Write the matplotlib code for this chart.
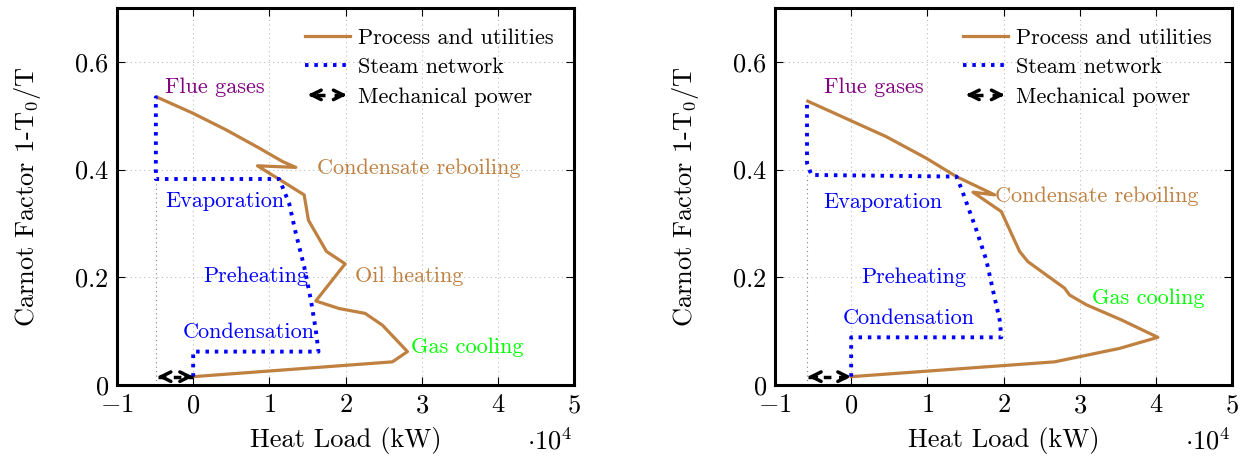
import matplotlib
matplotlib.use("Agg")
import matplotlib.pyplot as plt
from matplotlib.lines import Line2D
from matplotlib.patches import FancyArrowPatch
from matplotlib.legend_handler import HandlerBase
from matplotlib.ticker import FuncFormatter, MultipleLocator

plt.rcParams['font.family'] = 'serif'
plt.rcParams['font.serif'] = ['cmr10']
plt.rcParams['mathtext.fontset'] = 'cm'
plt.rcParams['axes.formatter.use_mathtext'] = True

BROWN = '#BF8040'
BLUE = '#0000FF'
PURPLE = '#800080'
GREEN = '#00FF00'

# heat load in kW, carnot factor
proc1_x = [-4680, -90, 4290, 8660, 11720, 13480, 8440, 14570, 15130, 17500, 19950,
           16100, 19160, 22570, 24850, 28130, 26160, 0]
proc1_y = [0.534, 0.505, 0.474, 0.440, 0.415, 0.404, 0.407, 0.353, 0.306, 0.248, 0.225,
           0.156, 0.142, 0.133, 0.111, 0.062, 0.043, 0.0155]
steam1_x = [0, 0, 16450, 16100, 15450, 14570, 13470, 12600, 11720, 11290, -4900, -4900, -4680]
steam1_y = [0.0155, 0.062, 0.062, 0.102, 0.158, 0.220, 0.282, 0.337, 0.368, 0.3825, 0.3825,
            0.534, 0.534]
mech1_x = [-4680, 0]
mech1_y = [0.0155, 0.0155]

proc2_x = [-5700, 240, 4620, 9870, 13810, 18830, 15990, 19710, 22110, 23200, 28000, 28680,
           30870, 35460, 40260, 35240, 26700, 0]
proc2_y = [0.527, 0.489, 0.461, 0.421, 0.387, 0.353, 0.358, 0.322, 0.248, 0.229, 0.180, 0.167,
           0.149, 0.121, 0.0885, 0.068, 0.043, 0.0155]
steam2_x = [0, 0, 19710, 19490, 18610, 17740, 16430, 15330, 14460, 13810, -5220, -5800, -5800]
steam2_y = [0.0155, 0.0885, 0.0885, 0.121, 0.176, 0.232, 0.288, 0.331, 0.365, 0.387, 0.39,
            0.412, 0.527]
mech2_x = [-5700, 0]
mech2_y = [0.0155, 0.0155]

labels1 = [("Flue gases", -3670, 0.553, PURPLE),
           ("Condensate reboiling", 16270, 0.403, BROWN),
           ("Evaporation", -3670, 0.342, BLUE),
           ("Preheating", 1310, 0.202, BLUE),
           ("Oil heating", 21260, 0.202, BROWN),
           ("Condensation", -1310, 0.098, BLUE),
           ("Gas cooling", 28610, 0.0706, GREEN)]
labels2 = [("Flue gases", -3610, 0.552, PURPLE),
           ("Condensate reboiling", 18830, 0.351, BROWN),
           ("Evaporation", -3610, 0.340, BLUE),
           ("Preheating", 1380, 0.200, BLUE),
           ("Condensation", -1120, 0.124, BLUE),
           ("Gas cooling", 31630, 0.162, GREEN)]


class ArrowHandler(HandlerBase):
    def create_artists(self, legend, orig_handle, xdescent, ydescent, width, height,
                       fontsize, trans):
        y = height / 2 - ydescent
        x0, x1 = -xdescent, width - xdescent
        ln = Line2D([x0 + 8, x1 - 8], [y, y], color='k', lw=2.5, ls=(0, (2.6, 2.6)),
                    transform=trans)
        a1 = FancyArrowPatch((x0 + 9, y), (x0, y), arrowstyle='->', mutation_scale=17,
                             lw=2.5, color='k', transform=trans)
        a2 = FancyArrowPatch((x1 - 9, y), (x1, y), arrowstyle='->', mutation_scale=17,
                             lw=2.5, color='k', transform=trans)
        return [ln, a1, a2]


def draw(ax, px, py, sx, sy, mx, my, labels):
    ax.plot([sx[-2], sx[-2]], [0, sy[-3]], color='gray', lw=0.8, ls=(0, (1, 3)))
    ax.plot(px, py, color=BROWN, lw=2.3, zorder=3)
    ax.plot(sx, sy, color=BLUE, lw=2.8, ls=(0, (0.9, 1.5)), zorder=3)
    ax.plot(mx, my, color='k', lw=2.5, ls=(0, (2.2, 2.2)), zorder=4)
    for i, j in ((0, 1), (1, 0)):
        ax.annotate('', xy=(mx[i], my[i]), xytext=(mx[i] + (mx[j] - mx[i]) * 0.2, my[i]),
                    arrowprops=dict(arrowstyle='->', lw=2.5, color='k', mutation_scale=17,
                                    shrinkA=0, shrinkB=0), zorder=5)
    for txt, x, y, c in labels:
        ax.text(x, y, txt, color=c, fontsize=16, ha='left', va='center')

    ax.set_xlim(-10000, 50000)
    ax.set_ylim(0, 0.7)
    ax.xaxis.set_major_locator(MultipleLocator(10000))
    ax.yaxis.set_major_locator(MultipleLocator(0.2))
    ax.xaxis.set_major_formatter(FuncFormatter(lambda v, p: '$%d$' % round(v / 10000)))
    ax.yaxis.set_major_formatter(FuncFormatter(lambda v, p: '$%g$' % round(v, 1)))
    ax.tick_params(direction='in', top=True, right=True, length=6, width=0.8,
                   labelsize=19, colors='k')
    ax.tick_params(axis='x', pad=6)
    ax.tick_params(axis='y', pad=6)
    ax.grid(True, color='#bbbbbb', lw=0.8, ls=(0, (1, 3)))
    for s in ax.spines.values():
        s.set_linewidth(2.2)
    ax.set_xlabel('Heat Load (kW)', fontsize=19, labelpad=7)
    ax.set_ylabel('Carnot Factor 1-T$_0$/T', fontsize=19, labelpad=22)
    ax.text(0.947, -0.15, r'$\cdot10^4$', transform=ax.transAxes, fontsize=19,
            ha='center', va='center')

    handles = [Line2D([], [], color=BROWN, lw=2.3),
               Line2D([], [], color=BLUE, lw=2.8, ls=(0, (0.9, 1.5))),
               'arrow']
    ax.legend(handles, ['Process and utilities', 'Steam network', 'Mechanical power'],
              loc='upper right', frameon=False, fontsize=16, handlelength=2.0,
              handletextpad=0.4, labelspacing=0.45, borderaxespad=0.5,
              handler_map={str: ArrowHandler()})


fig = plt.figure(figsize=(12.46, 4.59), dpi=100)
ax1 = fig.add_axes([0.0939, 0.1612, 0.3668, 0.8214])
ax2 = fig.add_axes([0.6220, 0.1612, 0.3668, 0.8214])
draw(ax1, proc1_x, proc1_y, steam1_x, steam1_y, mech1_x, mech1_y, labels1)
draw(ax2, proc2_x, proc2_y, steam2_x, steam2_y, mech2_x, mech2_y, labels2)

fig.savefig('out.png', dpi=100)
